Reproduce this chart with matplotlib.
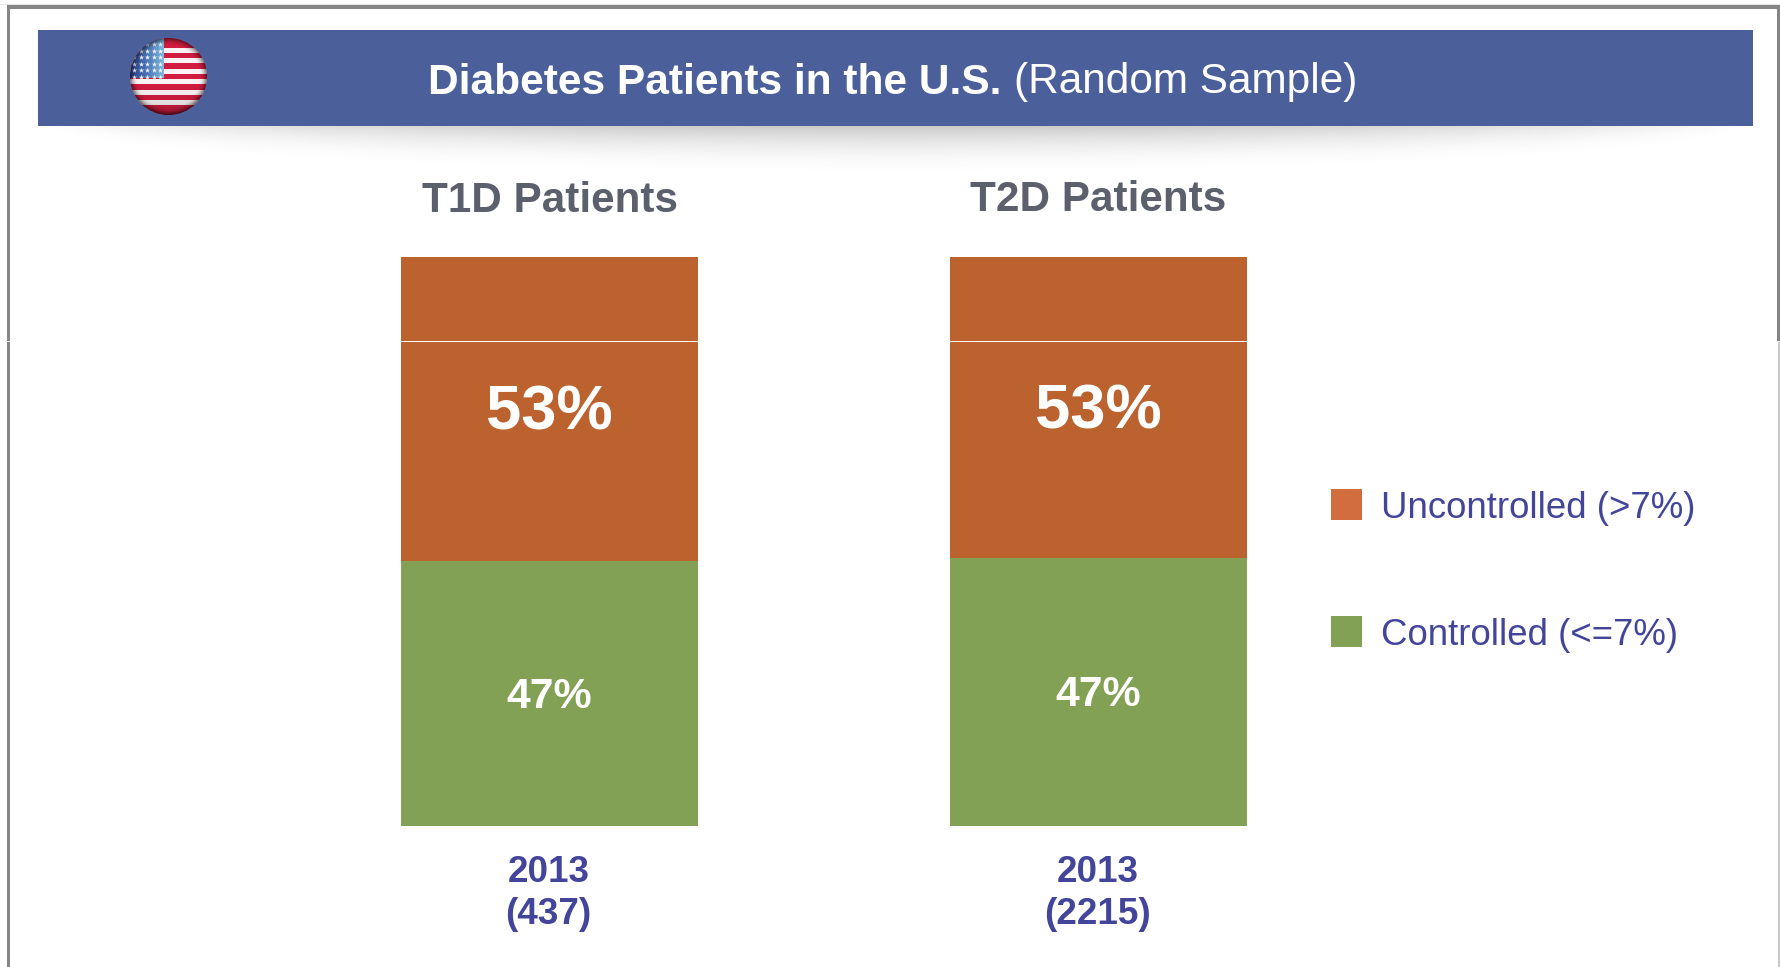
import numpy as np
import matplotlib
matplotlib.use("Agg")
from matplotlib import pyplot as plt
from matplotlib.colors import LinearSegmentedColormap
from matplotlib.patches import Circle, Rectangle

plt.rcParams['font.family'] = ['Liberation Sans', 'DejaVu Sans']

# data
groups = ["T1D Patients", "T2D Patients"]
years = ["2013\n(437)", "2013\n(2215)"]
controlled = [46.6, 47.1]
uncontrolled = [53.4, 52.9]
controlled_labels = ["47%", "47%"]
uncontrolled_labels = ["53%", "53%"]
legend_labels = ["Uncontrolled (>7%)", "Controlled (<=7%)"]

W, H = 1780, 967
ORANGE = "#bb622e"
GREEN = "#83a155"
BLUE_TEXT = "#43459a"
GREY_TEXT = "#5b606c"
FRAME = "#858585"

fig = plt.figure(figsize=(W / 100, H / 100), dpi=100, facecolor="white")

# background layer in pixels, y going down
bg = fig.add_axes([0, 0, 1, 1], zorder=1)
bg.set_xlim(0, W)
bg.set_ylim(H, 0)
bg.axis("off")

# frame of the slide
bg.add_patch(Rectangle((0, 3.5), W, 1.5, fc="#e4e4e4", lw=0))
bg.add_patch(Rectangle((6.5, 5), W - 6.5, 3.5, fc=FRAME, lw=0))
bg.add_patch(Rectangle((6.5, 5), 3.5, H - 5, fc=FRAME, lw=0))
bg.add_patch(Rectangle((1777, 5), 3, 336, fc=FRAME, lw=0))
bg.add_patch(Rectangle((1778, 342), 2, H - 342, fc="#c8c8c8", lw=0))

# shadow under the banner
xs = np.linspace(50, 1740, 500)
ys = np.linspace(126, 175, 120)
xx, yy = np.meshgrid(xs, ys)
u = (xx - 895) / 845
reach = 48 * np.sqrt(np.clip(1 - u ** 2, 0, 1)) + 1
fade = np.clip(1 - (yy - 126) / reach, 0, 1) ** 2
strength = 0.36 * np.clip(1 - u ** 2, 0, 1) ** 0.8
shadow = np.zeros(xx.shape + (4,))
shadow[..., :3] = 0.42
shadow[..., 3] = fade * strength
bg.imshow(shadow, extent=(50, 1740, 175, 126), aspect="auto", zorder=1, interpolation="bilinear")

# banner
bg.add_patch(Rectangle((38, 30), 1715, 96, fc="#4b5f9b", lw=0, zorder=2))
bg.text(428, 83.5, "Diabetes Patients in the U.S.", color="white", fontsize=30.65,
        fontweight="bold", ha="left", va="center", zorder=3)
bg.text(1014, 82.5, "(Random Sample)", color="white", fontsize=30.5,
        ha="left", va="center", zorder=3)

# flag button
cx, cy, r = 168.5, 76.5, 38.5
clip = Circle((cx, cy), r, transform=bg.transData)
base = bg.add_patch(Circle((cx, cy), r, fc="#d01c3f", lw=0, zorder=4))
for sy in [50, 60.5, 71, 81, 92, 102]:
    stripe = bg.add_patch(Rectangle((cx - r, sy - 2.5), 2 * r, 5, fc="#fbf3f3", lw=0, zorder=5))
    stripe.set_clip_path(clip)
blues = LinearSegmentedColormap.from_list("canton", ["#2a3d88", "#4a74b6", "#7fb8e0"])
canton = bg.imshow(np.linspace(0, 1, 64).reshape(1, -1), cmap=blues,
                   extent=(130, 163.5, 78, 38), aspect="auto", zorder=6)
canton.set_clip_path(clip)
star_x, star_y = np.meshgrid(np.arange(134, 163, 6.5), np.arange(44, 78, 6.5))
stars = bg.scatter(star_x.ravel(), star_y.ravel(), s=16, c="#eef3fa", marker="*", lw=0, zorder=7)
stars.set_clip_path(clip)
# dark rim and glossy shade
n = 160
gx, gy = np.meshgrid(np.linspace(-1, 1, n), np.linspace(-1, 1, n))
rad = np.hypot(gx, gy)
shade = np.zeros((n, n, 4))
shade[..., 3] = np.clip((rad - 0.8) / 0.2, 0, 1) ** 2 * 0.5 + np.clip(gy, 0, 1) ** 2 * 0.2
gloss = bg.imshow(shade, extent=(cx - r, cx + r, cy + r, cy - r), aspect="auto", zorder=8)
gloss.set_clip_path(clip)
bg.set_xlim(0, W)
bg.set_ylim(H, 0)

# legend
bg.add_patch(Rectangle((1331, 489), 31, 31, fc="#d26e3e", lw=0))
bg.add_patch(Rectangle((1331, 616), 31, 31, fc=GREEN, lw=0))
bg.text(1381, 509, legend_labels[0], color=BLUE_TEXT, fontsize=26.4, ha="left", va="center")
bg.text(1381, 635.5, legend_labels[1], color=BLUE_TEXT, fontsize=26.4, ha="left", va="center")

# the stacked bars
ax = fig.add_axes([401 / W, 1 - 826 / H, 846 / W, 569 / H], zorder=2)
ax.patch.set_alpha(0)
ax.axis("off")
x = np.arange(len(groups))
width = 297 / 549
ax.bar(x, controlled, width, color=GREEN, lw=0)
ax.bar(x, uncontrolled, width, bottom=controlled, color=ORANGE, lw=0)
ax.set_xlim(-width / 2, 1 + width / 2)
ax.set_ylim(0, 100)

for i in x:
    ax.text(i, controlled[i] / 2 - 0.6, controlled_labels[i], color="white", fontsize=30.8,
            fontweight="bold", ha="center", va="center")
    ax.text(i, 72.8 if i else 72.5, uncontrolled_labels[i], color="white", fontsize=45.5,
            fontweight="bold", ha="center", va="center")
    ax.text(i, 110.1 if i else 109.8, groups[i], color=GREY_TEXT, fontsize=30.4,
            fontweight="bold", ha="center", va="center", clip_on=False)
    ax.text(i - 0.002, -11.9, years[i], color=BLUE_TEXT, fontsize=26.6, fontweight="bold",
            ha="center", va="center", linespacing=1.24, clip_on=False)

# thin white line running through the whole picture
top = fig.add_axes([0, 0, 1, 1], zorder=3)
top.set_xlim(0, W)
top.set_ylim(H, 0)
top.axis("off")
top.patch.set_alpha(0)
top.add_patch(Rectangle((0, 340.8), W, 1.1, fc="white", lw=0))

fig.savefig("out.png", dpi=100)
